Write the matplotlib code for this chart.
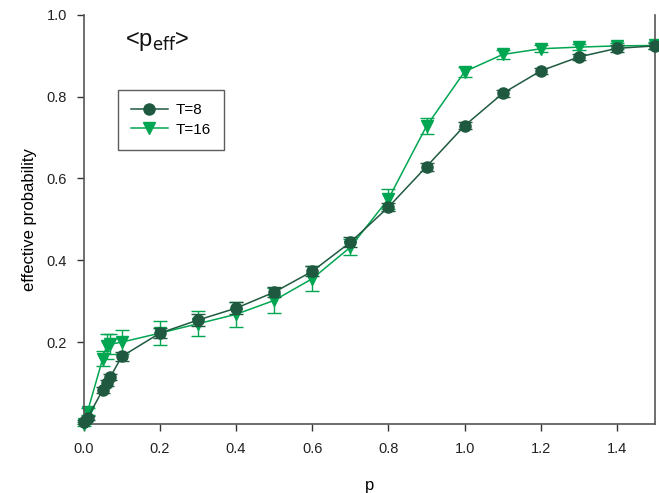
import matplotlib
matplotlib.use("Agg")
import matplotlib.pyplot as plt
from matplotlib.lines import Line2D

plt.rcParams['font.family'] = ['Liberation Sans', 'DejaVu Sans']

p = [0.0, 0.01, 0.05, 0.06, 0.07, 0.1, 0.2, 0.3, 0.4, 0.5, 0.6, 0.7, 0.8, 0.9, 1.0, 1.1, 1.2, 1.3, 1.4, 1.5]
t8 = [0.005, 0.015, 0.083, 0.10, 0.115, 0.165, 0.222, 0.254, 0.283, 0.322, 0.373, 0.444, 0.530, 0.629, 0.729, 0.808, 0.863, 0.897, 0.918, 0.924]
t8_err = [0.004, 0.005, 0.008, 0.008, 0.008, 0.01, 0.012, 0.015, 0.015, 0.012, 0.012, 0.012, 0.01, 0.01, 0.008, 0.008, 0.008, 0.008, 0.008, 0.008]
t16 = [0.0, 0.03, 0.16, 0.19, 0.195, 0.20, 0.222, 0.245, 0.268, 0.302, 0.355, 0.432, 0.550, 0.728, 0.861, 0.903, 0.917, 0.921, 0.924, 0.925]
t16_err = [0.004, 0.008, 0.018, 0.03, 0.025, 0.03, 0.03, 0.03, 0.03, 0.03, 0.03, 0.02, 0.025, 0.02, 0.012, 0.01, 0.008, 0.008, 0.008, 0.008]

xticks = [0.0, 0.2, 0.4, 0.6, 0.8, 1.0, 1.2, 1.4]
yticks = [0.2, 0.4, 0.6, 0.8, 1.0]

c8 = '#1f5a40'
c16 = '#00a651'

fig = plt.figure(figsize=(6.59, 4.93), dpi=100)
ax = fig.add_axes([0.127, 0.14, 0.867, 0.83])

ax.errorbar(p, t8, yerr=t8_err, color=c8, marker='o', markersize=8, linewidth=1.1,
            elinewidth=1.0, capsize=5, capthick=1.0, clip_on=False, zorder=3)
ax.errorbar(p, t16, yerr=t16_err, color=c16, marker='v', markersize=9, linewidth=1.1,
            elinewidth=1.0, capsize=5, capthick=1.0, clip_on=False, zorder=2)

ax.set_xlim(0, 1.5)
ax.set_ylim(0, 1.0)
ax.set_xticks(xticks)
ax.set_yticks(yticks)
ax.set_xticklabels([f"{v:.1f}" for v in xticks])
ax.set_yticklabels([f"{v:.1f}" for v in yticks])
ax.tick_params(axis='both', direction='out', length=5, width=1, color='#333333', labelsize=10.5, labelcolor='#222222', pad=7)
ax.tick_params(axis='x', pad=8)

ax.spines['top'].set_visible(False)
for s in ['left', 'bottom', 'right']:
    ax.spines[s].set_color('#555555')
    ax.spines[s].set_linewidth(1.2)

ax.set_xlabel('p', fontsize=12, labelpad=16)
ax.set_ylabel('effective probability', fontsize=12, labelpad=7)

ax.text(0.072, 0.935, r'<p$_{\mathrm{eff}}$>', transform=ax.transAxes, fontsize=17,
        ha='left', va='center', color='#111111')

handles = [Line2D([], [], color=c8, marker='o', markersize=8, linewidth=1.1),
           Line2D([], [], color=c16, marker='v', markersize=9, linewidth=1.1)]
leg = ax.legend(handles, ['T=8', 'T=16'], loc='upper left', bbox_to_anchor=(0.06, 0.815),
                frameon=True, fancybox=False, fontsize=11, handlelength=2.4,
                borderpad=0.85, labelspacing=0.35, handletextpad=0.5, borderaxespad=0)
leg.get_frame().set_edgecolor('#333333')
leg.get_frame().set_linewidth(1.0)

fig.savefig('out.png', dpi=100)
